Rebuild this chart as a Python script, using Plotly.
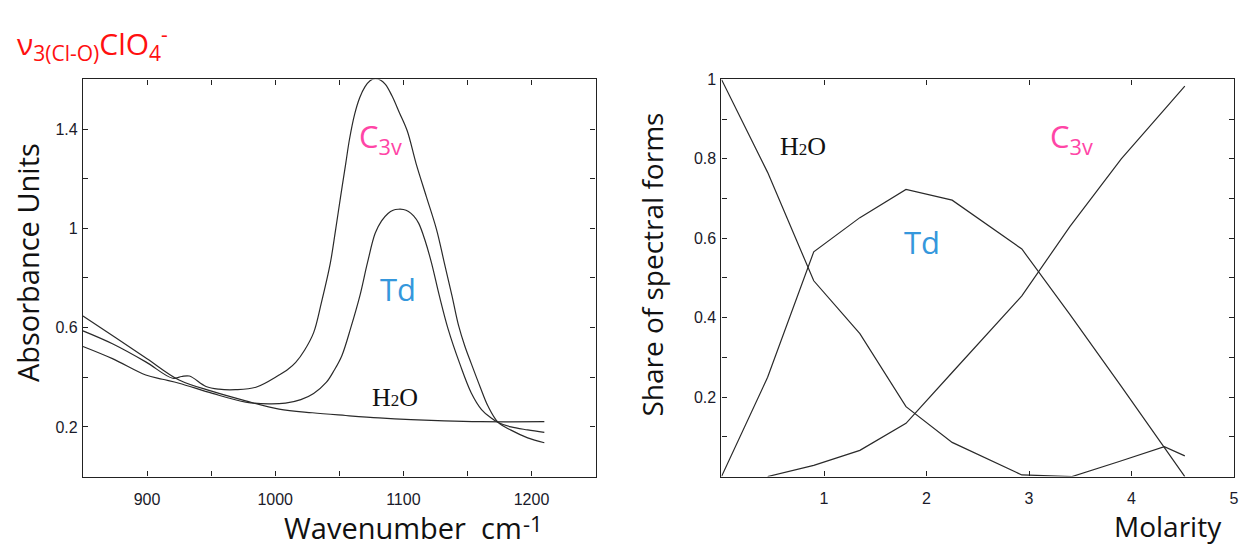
import plotly.graph_objects as go

# ---------------- Left panel: IR spectra ----------------
h2o_wn = [850, 875, 900, 925, 951, 977, 1003, 1029, 1055, 1081, 1106, 1132, 1160, 1210]
h2o_abs = [0.647, 0.561, 0.475, 0.389, 0.343, 0.305, 0.272, 0.257, 0.246, 0.236, 0.229, 0.224, 0.221, 0.221]

td_wn = [850, 873, 899, 912, 925, 951, 977, 995, 1008, 1020, 1030, 1040, 1046, 1052, 1059, 1066,
         1072, 1078, 1083, 1088, 1092, 1096, 1100, 1104, 1108, 1112, 1117, 1122, 1128, 1135,
         1144, 1153, 1161, 1168, 1174, 1184, 1197, 1210]
td_abs = [0.524, 0.475, 0.409, 0.392, 0.376, 0.335, 0.300, 0.293, 0.296, 0.310, 0.335, 0.380,
          0.428, 0.487, 0.600, 0.727, 0.862, 0.980, 1.030, 1.060, 1.073, 1.077, 1.076, 1.068,
          1.050, 1.020, 0.950, 0.860, 0.730, 0.593, 0.455, 0.337, 0.270, 0.238, 0.218, 0.200,
          0.188, 0.178]

c3v_wn = [850, 873, 899, 920, 927, 933, 946, 956, 969, 985, 1003, 1010, 1016, 1023, 1030, 1036,
          1043, 1047, 1051, 1055, 1058, 1062, 1066, 1070, 1074, 1078, 1082, 1086, 1091, 1097,
          1103, 1110, 1118, 1126, 1132, 1138, 1143, 1148, 1153, 1160, 1166, 1174, 1184, 1197,
          1210]
c3v_abs = [0.587, 0.535, 0.462, 0.396, 0.403, 0.405, 0.363, 0.352, 0.350, 0.360, 0.409, 0.432,
           0.460, 0.510, 0.580, 0.700, 0.860, 0.990, 1.127, 1.260, 1.360, 1.460, 1.527, 1.570,
           1.595, 1.603, 1.598, 1.580, 1.535, 1.465, 1.393, 1.260, 1.127, 0.993, 0.860, 0.727,
           0.610, 0.525, 0.455, 0.360, 0.284, 0.218, 0.187, 0.156, 0.136]

left_xticks = [900, 950, 1000, 1050, 1100, 1150, 1200]
left_xtext = ["900", "", "1000", "", "1100", "", "1200"]
left_yticks = [0.2, 0.4, 0.6, 0.8, 1.0, 1.2, 1.4]
left_ytext = ["0.2", "", "0.6", "", "1", "", "1.4"]

# ---------------- Right panel: shares vs molarity ----------------
mol_h2o = [0, 0.45, 0.90, 1.35, 1.80, 2.25, 2.93, 3.42, 3.88, 4.32, 4.52]
share_h2o = [1.0, 0.766, 0.493, 0.360, 0.176, 0.086, 0.004, 0.0, 0.038, 0.075, 0.052]

mol_td = [0, 0.45, 0.90, 1.35, 1.80, 2.25, 2.93, 3.40, 3.90, 4.32, 4.52]
share_td = [0.0, 0.250, 0.566, 0.652, 0.723, 0.696, 0.573, 0.408, 0.227, 0.075, 0.0]

mol_c3v = [0.45, 0.90, 1.35, 1.80, 2.25, 2.93, 3.40, 3.90, 4.32, 4.52]
share_c3v = [0.0, 0.028, 0.066, 0.134, 0.262, 0.455, 0.630, 0.800, 0.924, 0.983]

right_xticks = [1, 2, 3, 4, 5]
right_xtext = ["1", "2", "3", "4", "5"]
right_yticks = [0.1, 0.2, 0.3, 0.4, 0.5, 0.6, 0.7, 0.8, 0.9, 1.0]
right_ytext = ["", "0.2", "", "0.4", "", "0.6", "", "0.8", "", "1"]

W, H = 1245, 547
LINE = dict(color="#2a2a2a", width=1.2)

fig = go.Figure()
for xs, ys in [(h2o_wn, h2o_abs), (td_wn, td_abs), (c3v_wn, c3v_abs)]:
    fig.add_trace(go.Scatter(x=xs, y=ys, mode="lines", line=dict(**LINE, shape="spline", smoothing=1.0),
                             xaxis="x", yaxis="y", showlegend=False, hoverinfo="skip"))
for xs, ys in [(mol_h2o, share_h2o), (mol_td, share_td), (mol_c3v, share_c3v)]:
    fig.add_trace(go.Scatter(x=xs, y=ys, mode="lines", line=LINE, cliponaxis=False,
                             xaxis="x2", yaxis="y2", showlegend=False, hoverinfo="skip"))

ydom = [1 - 475.5 / H, 1 - 72.5 / H]
tickfont = dict(family="Liberation Sans, Arial, sans-serif", size=16, color="#1a1a2a")
axcommon = dict(showline=True, linecolor="#222", linewidth=1.2, mirror="allticks",
                ticks="inside", ticklen=5, tickcolor="#222", tickwidth=1,
                showgrid=False, zeroline=False, tickfont=tickfont, fixedrange=True)

fig.update_layout(
    width=W, height=H, margin=dict(l=0, r=0, t=0, b=0),
    paper_bgcolor="white", plot_bgcolor="white", showlegend=False,
    xaxis=dict(domain=[83.3 / W, 598 / W], range=[850, 1250], tickmode="array",
               tickvals=left_xticks, ticktext=left_xtext, anchor="y",
               ticklabelstandoff=8, **axcommon),
    yaxis=dict(domain=ydom, range=[0, 1.6], tickmode="array",
               tickvals=left_yticks, ticktext=left_ytext, anchor="x",
               ticklabelstandoff=1, **axcommon),
    xaxis2=dict(domain=[724.4 / W, 1239 / W], range=[0, 5], tickmode="array",
                tickvals=right_xticks, ticktext=right_xtext, anchor="y2",
                ticklabelstandoff=7, **axcommon),
    yaxis2=dict(domain=ydom, range=[0, 1], tickmode="array",
                tickvals=right_yticks, ticktext=right_ytext, anchor="x2",
                ticklabelstandoff=1, **axcommon),
)

PINK = "#ff45a6"
BLUE = "#3597dc"
SANS = "Open Sans, sans-serif"
SERIF = "Liberation Serif, Times New Roman, serif"


def ann(text, px, py, size, color="#111", family=SANS, angle=0, xanchor="center"):
    fig.add_annotation(text=text, x=px / W, y=1 - py / H, xref="paper", yref="paper",
                       showarrow=False, xanchor=xanchor, yanchor="middle", textangle=angle,
                       font=dict(size=size, color=color, family=family))


h2o_txt = "H<span style='font-size:17px'>2</span>O"

# title
ann("ν<sub>3(Cl-O)</sub>ClO<sub>4</sub><sup>-</sup>", 15, 36, 30, color="#ff1010", xanchor="left")
# left panel labels
ann("C<sub>3v</sub>", 382, 132, 31, color=PINK)
ann("Td", 400, 285, 31, color=BLUE)
ann(h2o_txt, 397, 395, 26, color="#111", family=SERIF)
# right panel labels
ann(h2o_txt, 806, 141, 26, color="#111", family=SERIF)
ann("Td", 926, 237, 31, color=BLUE)
ann("C<sub>3v</sub>", 1076, 132, 31, color=PINK)
# axis titles
ann("Absorbance Units", 27, 258, 29, color="#111", angle=-90)
ann("Wavenumber  cm", 283, 527, 29, color="#111", xanchor="left")
ann("-1", 523, 523, 22, color="#111", xanchor="left")
ann("Share of spectral forms", 655, 260, 28, color="#111", angle=-90)
ann("Molarity", 1173, 526, 28, color="#111")

fig.write_html("out.html")
